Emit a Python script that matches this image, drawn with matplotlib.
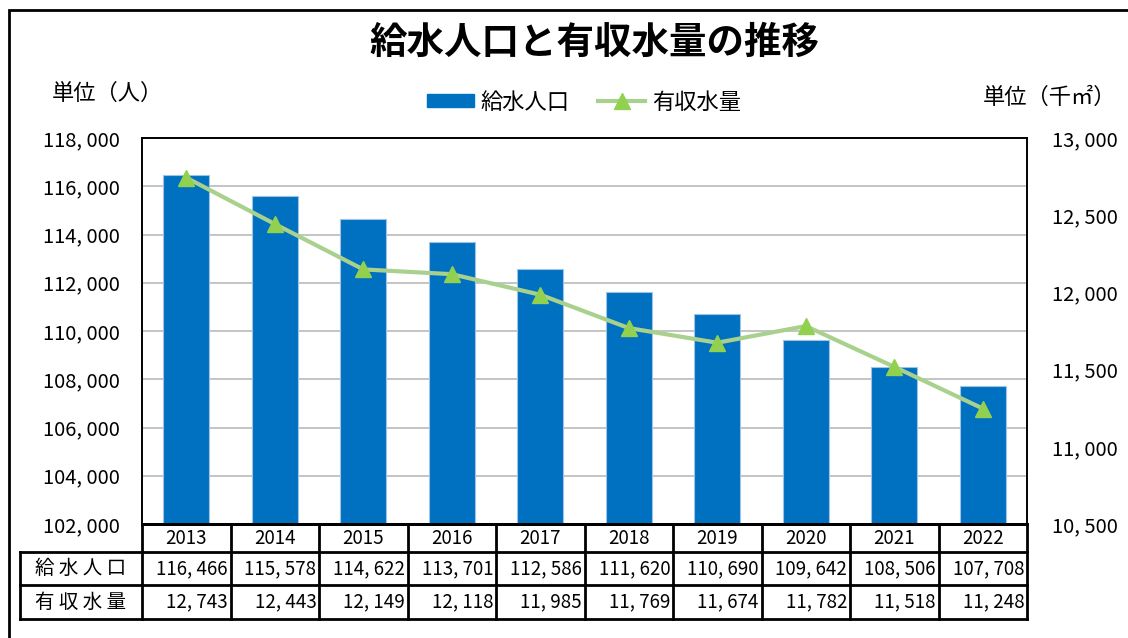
import matplotlib
matplotlib.use("Agg")
import matplotlib.pyplot as plt
import matplotlib.transforms as mtransforms
from matplotlib.patches import Rectangle
from matplotlib.lines import Line2D
import numpy as np

plt.rcParams['font.family'] = ['Noto Sans CJK JP', 'DejaVu Sans']

years = ['2013', '2014', '2015', '2016', '2017', '2018', '2019', '2020', '2021', '2022']
population = [116466, 115578, 114622, 113701, 112586, 111620, 110690, 109642, 108506, 107708]
water = [12743, 12443, 12149, 12118, 11985, 11769, 11674, 11782, 11518, 11248]
left_ticks = list(range(102000, 118001, 2000))
right_ticks = list(range(10500, 13001, 500))

BLUE = '#0070C0'
GREEN_LINE = '#A9D18E'
GREEN_MARK = '#92D050'


def fmt(v):
    return '{:,}'.format(v).replace(',', ', ')


W, H = 1128, 638
fig = plt.figure(figsize=(W / 100, H / 100), dpi=100)

# outer frame (right/bottom edges run off the picture)
fig.patches.append(Rectangle((9 / W, -0.05), 1.2, 1 - 10 / H + 0.05,
                             transform=fig.transFigure, fill=False,
                             edgecolor='black', linewidth=2))

ax = fig.add_axes([142 / W, 1 - 524 / H, (1027 - 142) / W, (524 - 138) / H])
ax2 = ax.twinx()

x = np.arange(len(years))
ax.bar(x, population, width=0.52, color=BLUE, edgecolor='#9DC3E6',
       linewidth=0.8, zorder=2)
ax.set_ylim(102000, 118000)
ax.set_xlim(-0.5, len(years) - 0.5)
ax.set_yticks(left_ticks)
ax.set_yticklabels([fmt(v) for v in left_ticks], fontsize=14.5)
ax.yaxis.grid(True, color='#BFBFBF', linewidth=1.3, zorder=0)
ax.set_axisbelow(True)
ax.tick_params(axis='y', length=0, pad=16)
ax.tick_params(axis='x', length=0, labelbottom=False)
ax.set_xticks([])

ax2.plot(x, water, color=GREEN_LINE, linewidth=3, marker='^',
         markersize=11, markerfacecolor=GREEN_MARK,
         markeredgecolor=GREEN_MARK, zorder=3)
ax2.set_ylim(10500, 13000)
ax2.set_yticks(right_ticks)
ax2.set_yticklabels([fmt(v) for v in right_ticks], fontsize=14.5)
ax2.tick_params(axis='y', length=0, pad=18)

for a in (ax, ax2):
    for s in a.spines.values():
        s.set_linewidth(1.2)
        s.set_color('black')
    a.spines['bottom'].set_linewidth(2)

# data table below the plot
trans = mtransforms.blended_transform_factory(ax.transData, ax.transAxes)
ph = (524 - 138)
rows_px = [524, 552, 585, 619]
rows = [-(r - 524) / ph for r in rows_px]
x_left = -0.5 - (142 - 20) / 88.5
x_right = len(years) - 0.5

lw = 2
def hline(y, x0, x1):
    ax.add_line(Line2D([x0, x1], [y, y], transform=trans, color='black',
                       linewidth=lw, clip_on=False))

def vline(xv, y0, y1):
    ax.add_line(Line2D([xv, xv], [y0, y1], transform=trans, color='black',
                       linewidth=lw, clip_on=False))

hline(rows[0], -0.5, x_right)
for r in rows[1:]:
    hline(r, x_left, x_right)
vline(x_left, rows[1], rows[3])
for i in range(len(years) + 1):
    vline(i - 0.5, rows[0], rows[3])

for i, yr in enumerate(years):
    ax.text(i, (rows[0] + rows[1]) / 2, yr, transform=trans, ha='center',
            va='center', fontsize=13.5)
    ax.text(i + 0.47, (rows[1] + rows[2]) / 2, fmt(population[i]),
            transform=trans, ha='right', va='center', fontsize=13.5)
    ax.text(i + 0.47, (rows[2] + rows[3]) / 2, fmt(water[i]),
            transform=trans, ha='right', va='center', fontsize=13.5)

ax.text((x_left - 0.5) / 2, (rows[1] + rows[2]) / 2, '給 水 人 口',
        transform=trans, ha='center', va='center', fontsize=14)
ax.text((x_left - 0.5) / 2, (rows[2] + rows[3]) / 2, '有 収 水 量',
        transform=trans, ha='center', va='center', fontsize=14)

# title, units, legend
fig.text(594 / W, 1 - 42 / H, '給水人口と有収水量の推移', ha='center',
         va='center', fontsize=27, fontweight='bold')
fig.text(52 / W, 1 - 93 / H, '単位（人）', ha='left', va='center', fontsize=16)
fig.text(983 / W, 1 - 97 / H, '単位（千㎡）', ha='left', va='center', fontsize=16)

handles = [
    Rectangle((0, 0), 1, 1, color=BLUE),
    Line2D([0], [0], color=GREEN_LINE, linewidth=3, marker='^',
           markersize=11, markerfacecolor=GREEN_MARK,
           markeredgecolor=GREEN_MARK),
]
fig.legend(handles, ['給水人口', '有収水量'], loc='center',
           bbox_to_anchor=(584 / W, 1 - 102 / H), ncol=2, frameon=False,
           fontsize=16, handlelength=2.1, handleheight=0.55,
           columnspacing=1.3, handletextpad=0.3)

fig.savefig('out.png', dpi=100)
